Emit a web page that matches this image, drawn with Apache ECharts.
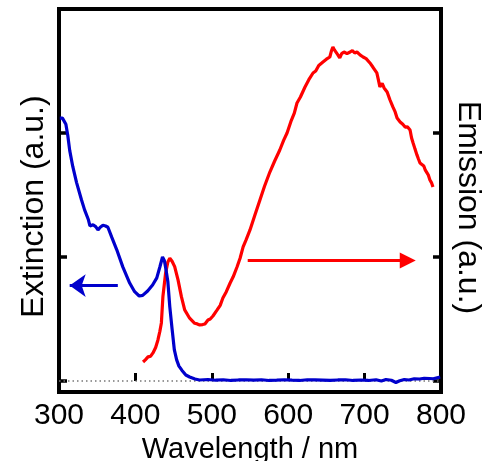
<!DOCTYPE html>
<html>
<head>
<meta charset="utf-8">
<script src="https://cdn.jsdelivr.net/npm/echarts@6/dist/echarts.min.js"></script>
<style>html,body{margin:0;padding:0;background:#fff;}#c{width:489px;height:461px;}</style>
</head>
<body>
<div id="c"></div>
<script>
// Axis settings / tick labels
const xTicks = [300, 400, 500, 600, 700, 800];
const yTickValues = [0, 1, 2];
const xName = 'Wavelength / nm';
const yLeftName = 'Extinction (a.u.)';
const yRightName = 'Emission (a.u.)';

// Extinction (blue) spectrum: [wavelength nm, extinction a.u.]
const extinction = [
  [301,2.12],[304.5,2.12],[307,2.11],[309,2.07],[311.5,1.98],[314,1.86],[318,1.73],[323,1.60],
  [329.5,1.46],[333.5,1.38],[338.5,1.30],[340.5,1.25],[344.5,1.26],[348,1.245],[351,1.218],
  [354,1.24],[357.5,1.256],[361,1.25],[364,1.24],[369,1.16],[375.5,1.06],[383.5,0.92],
  [392.5,0.79],[399,0.72],[405,0.685],[409.5,0.69],[416,0.726],[422.5,0.774],[428,0.831],
  [432,0.919],[435.5,1.0],[438,0.97],[440,0.90],[442.5,0.80],[445,0.60],[448,0.42],
  [451,0.25],[454,0.17],[457,0.12],[461,0.085],[466,0.048],[471,0.032],[478,0.016],[484,0.008],
  [495,0.012],[505,0.006],[515,0.010],[525,0.004],[535,0.008],[545,0.010],[555,0.006],
  [565,0.010],[575,0.004],[585,0.006],[595,0.010],[605,0.006],[615,0.004],[625,0.010],
  [635,0.008],[645,0.006],[655,0.004],[665,0.008],[675,0.010],[685,0.004],[695,0.008],
  [705,0.004],[715,0.010],[722,0.000],[728,0.012],[735,0.006],[741,-0.012],[746,0.002],
  [752,0.012],[758,0.008],[765,0.018],[772,0.016],[778,0.022],[785,0.020],[790,0.018],
  [795,0.026],[799,0.032]
];

// Emission (red) spectrum: [wavelength nm, emission a.u.]
const emission = [
  [410,0.153],[413,0.17],[416.5,0.194],[420,0.20],[423,0.226],[426.5,0.27],[429.5,0.331],
  [432,0.40],[434,0.468],[436,0.68],[439.5,0.869],[442.5,0.96],[445,0.99],[448,0.965],
  [451.4,0.922],[455.8,0.815],[460.2,0.68],[464.5,0.573],[471,0.506],[477.6,0.465],
  [481,0.46],[484.2,0.452],[488,0.455],[491,0.46],[495,0.492],[498,0.50],[501.5,0.524],
  [504,0.535],[507,0.573],[511,0.61],[514.5,0.669],[519,0.72],[524,0.79],[528,0.84],
  [533,0.919],[537,0.99],[541,1.081],[545,1.14],[550,1.218],[556,1.33],[563,1.46],
  [569,1.57],[576,1.685],[582,1.77],[589,1.863],[594,1.94],[598.5,2.0],[604,2.10],
  [608,2.16],[611.5,2.242],[616,2.29],[622,2.371],[627,2.43],[632.5,2.484],[636,2.50],
  [640,2.545],[645.5,2.573],[650,2.595],[654.5,2.613],[656.5,2.66],[658.5,2.694],
  [660.5,2.67],[662.5,2.669],[665,2.63],[667.5,2.605],[670,2.64],[673,2.653],[677,2.64],
  [681,2.653],[684,2.665],[687,2.645],[690,2.653],[694,2.63],[698,2.613],[702,2.60],
  [707,2.565],[711,2.53],[716,2.484],[718,2.43],[720,2.371],[723,2.40],[725.5,2.363],
  [729.5,2.331],[733,2.27],[737,2.21],[740,2.17],[742.5,2.121],[746.5,2.089],[750,2.07],
  [753,2.048],[756,2.05],[759.5,2.024],[761.5,1.96],[763.5,1.919],[766,1.87],[768.5,1.823],
  [770.5,1.79],[772.5,1.758],[775,1.75],[777.5,1.734],[779.5,1.70],[781.5,1.702],
  [783.5,1.66],[785.5,1.621],[787.5,1.60],[789.5,1.565]
];

// Zero baseline and arrow annotations (data coordinates)
const baseline = [[300,0],[800,0]];
const blueArrow = [[377,0.769],[314,0.769]];
const redArrow = [[547,0.972],[756.5,0.972]];

const FONT = 'Liberation Sans, Arial, sans-serif';
const chart = echarts.init(document.getElementById('c'), null, {renderer: 'canvas'});

const yCommon = {
  type: 'value', min: -0.089, max: 3,
  axisLine: {show: false},
  axisTick: {show: true, inside: true, length: 8, customValues: yTickValues,
             lineStyle: {color: '#000', width: 3.5}},
  axisLabel: {show: false},
  splitLine: {show: false},
  nameLocation: 'middle'
};

chart.setOption({
  animation: false,
  backgroundColor: '#fff',
  grid: {left: 59, right: 48, top: 9, bottom: 69, show: true, borderColor: '#000',
         borderWidth: 4, backgroundColor: 'transparent', containLabel: false,
         outerBoundsMode: 'none'},
  xAxis: {
    type: 'value', min: xTicks[0], max: xTicks[xTicks.length-1], interval: 100,
    axisLine: {show: false},
    axisTick: {show: true, inside: true, length: 8, lineStyle: {color: '#000', width: 3}},
    axisLabel: {color: '#000', fontSize: 30, fontFamily: FONT, margin: 9},
    splitLine: {show: false},
    name: xName, nameLocation: 'middle', nameGap: 40,
    nameTextStyle: {color: '#000', fontSize: 29, fontFamily: FONT}
  },
  yAxis: [
    Object.assign({}, yCommon, {position: 'left', name: yLeftName, nameGap: 9,
      nameTextStyle: {color: '#000', fontSize: 32, fontFamily: FONT, padding: [0, 12, 0, 0]}}),
    Object.assign({}, yCommon, {position: 'right', name: yRightName, nameGap: 11, nameRotate: -90,
      nameTextStyle: {color: '#000', fontSize: 32, fontFamily: FONT, padding: [0, 0, 0, 14]}})
  ],
  series: [
    {type: 'line', data: baseline, yAxisIndex: 0, symbol: 'none', silent: true, z: 1,
     lineStyle: {color: '#777', width: 1.5, type: [1.5, 3]}},
    {type: 'line', data: extinction, yAxisIndex: 0, symbol: 'none', z: 3,
     lineStyle: {color: '#0000cc', width: 3.2},
     markLine: {silent: true, symbol: ['none', 'arrow'], symbolSize: [17, 16], label: {show: false},
       lineStyle: {color: '#0000cc', width: 3, type: 'solid'},
       data: [[{coord: blueArrow[0]}, {coord: blueArrow[1]}]]}},
    {type: 'line', data: emission, yAxisIndex: 1, symbol: 'none', z: 2,
     lineStyle: {color: '#ff0000', width: 3.2},
     markLine: {silent: true, symbol: ['none', 'triangle'], symbolSize: [16, 16], label: {show: false},
       lineStyle: {color: '#ff0000', width: 3, type: 'solid'},
       data: [[{coord: redArrow[0]}, {coord: redArrow[1]}]]}}
  ]
});
</script>
</body>
</html>
